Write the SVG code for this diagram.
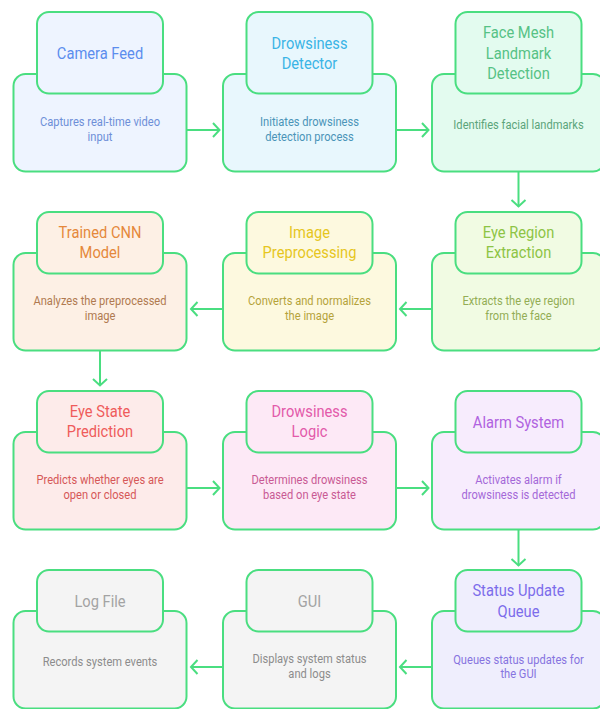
<svg xmlns="http://www.w3.org/2000/svg" width="600" height="709" viewBox="0 0 600 709">
<defs>
<marker id="ah" markerUnits="userSpaceOnUse" markerWidth="20" markerHeight="20" viewBox="-10 -10 20 20" refX="0" refY="0" orient="auto">
<path d="M-6.5,-7 L0,0 L-6.5,7" fill="none" stroke="#4ade80" stroke-width="2"/>
</marker>
</defs>
<style>
rect{stroke:#4ade80;stroke-width:2}
text{font-family:Roboto,"Liberation Sans",sans-serif;text-anchor:middle}
.h{font-size:16.5px}
.b{font-size:12.5px}
.conn path{fill:none;stroke:#4ade80;stroke-width:2;marker-end:url(#ah)}
.blue rect{fill:#eef4ff}.blue .h{fill:#5b8dee}.blue .b{fill:#6d8fd8}
.cyan rect{fill:#e8f7fd}.cyan .h{fill:#3ab4e6}.cyan .b{fill:#4a94b8}
.green rect{fill:#e3fbef}.green .h{fill:#56c285}.green .b{fill:#5ba47a}
.orange rect{fill:#fdf0e5}.orange .h{fill:#e5883b}.orange .b{fill:#b07a50}
.yellow rect{fill:#fdf9df}.yellow .h{fill:#e6c61e}.yellow .b{fill:#b5a33a}
.lime rect{fill:#f1fbe3}.lime .h{fill:#8dc445}.lime .b{fill:#93ad55}
.red rect{fill:#fdebea}.red .h{fill:#ef5b5b}.red .b{fill:#d65858}
.pink rect{fill:#fde9f6}.pink .h{fill:#e35aaa}.pink .b{fill:#c95a94}
.purple rect{fill:#f7ecfd}.purple .h{fill:#b062e0}.purple .b{fill:#a468d8}
.grey rect{fill:#f4f4f4}.grey .h{fill:#a3a3a3}.grey .b{fill:#8c8c8c}
.lav rect{fill:#efeefd}.lav .h{fill:#7c6ceb}.lav .b{fill:#8674e0}
</style>
<rect x="0" y="0" width="600" height="709" fill="#ffffff" style="stroke:none"/>

<g class="conn" id="connectors">
<path d="M186.5,130 H219.5"/>
<path d="M396,130 H428.5"/>
<path d="M518.5,171.5 V206.5"/>
<path d="M432,309 H400"/>
<path d="M223,309 H191"/>
<path d="M100,350.5 V385.5"/>
<path d="M186.5,488 H219.5"/>
<path d="M396,488 H428.5"/>
<path d="M518.5,529.5 V565.5"/>
<path d="M432,667 H400"/>
<path d="M223,667 H191"/>
</g>

<g id="camera-feed" class="blue">
<rect x="13.5" y="74" width="173" height="97.5" rx="12"/>
<rect x="37" y="12" width="126" height="81.5" rx="12"/>
<text class="h" transform="translate(100 59) scale(.89 1)">Camera Feed</text>
<text class="b" transform="translate(100 126) scale(.89 1)"><tspan x="0">Captures real-time video</tspan><tspan x="0" dy="15">input</tspan></text>
</g>

<g id="drowsiness-detector" class="cyan">
<rect x="223" y="74" width="173" height="97.5" rx="12"/>
<rect x="246.5" y="12" width="126" height="81.5" rx="12"/>
<text class="h" transform="translate(309.5 48.5) scale(.89 1)"><tspan x="0">Drowsiness</tspan><tspan x="0" dy="20.6">Detector</tspan></text>
<text class="b" transform="translate(309.5 126) scale(.89 1)"><tspan x="0">Initiates drowsiness</tspan><tspan x="0" dy="15">detection process</tspan></text>
</g>

<g id="face-mesh" class="green">
<rect x="432" y="74" width="173" height="97.5" rx="12"/>
<rect x="455.5" y="12" width="126" height="81.5" rx="12"/>
<text class="h" transform="translate(518.5 38) scale(.89 1)"><tspan x="0">Face Mesh</tspan><tspan x="0" dy="20.6">Landmark</tspan><tspan x="0" dy="20.6">Detection</tspan></text>
<text class="b" transform="translate(518.5 129) scale(.89 1)">Identifies facial landmarks</text>
</g>

<g id="trained-cnn" class="orange">
<rect x="13.5" y="253" width="173" height="97.5" rx="12"/>
<rect x="37" y="212" width="126" height="61.5" rx="12"/>
<text class="h" transform="translate(100 237.5) scale(.89 1)"><tspan x="0">Trained CNN</tspan><tspan x="0" dy="20.6">Model</tspan></text>
<text class="b" transform="translate(100 305) scale(.89 1)"><tspan x="0">Analyzes the preprocessed</tspan><tspan x="0" dy="15">image</tspan></text>
</g>

<g id="image-preprocessing" class="yellow">
<rect x="223" y="253" width="173" height="97.5" rx="12"/>
<rect x="246.5" y="212" width="126" height="61.5" rx="12"/>
<text class="h" transform="translate(309.5 237.5) scale(.89 1)"><tspan x="0">Image</tspan><tspan x="0" dy="20.6">Preprocessing</tspan></text>
<text class="b" transform="translate(309.5 305) scale(.89 1)"><tspan x="0">Converts and normalizes</tspan><tspan x="0" dy="15">the image</tspan></text>
</g>

<g id="eye-region" class="lime">
<rect x="432" y="253" width="173" height="97.5" rx="12"/>
<rect x="455.5" y="212" width="126" height="61.5" rx="12"/>
<text class="h" transform="translate(518.5 237.5) scale(.89 1)"><tspan x="0">Eye Region</tspan><tspan x="0" dy="20.6">Extraction</tspan></text>
<text class="b" transform="translate(518.5 305) scale(.89 1)"><tspan x="0">Extracts the eye region</tspan><tspan x="0" dy="15">from the face</tspan></text>
</g>

<g id="eye-state" class="red">
<rect x="13.5" y="432" width="173" height="97.5" rx="12"/>
<rect x="37" y="391" width="126" height="61.5" rx="12"/>
<text class="h" transform="translate(100 416.7) scale(.89 1)"><tspan x="0">Eye State</tspan><tspan x="0" dy="20.6">Prediction</tspan></text>
<text class="b" transform="translate(100 484) scale(.89 1)"><tspan x="0">Predicts whether eyes are</tspan><tspan x="0" dy="15">open or closed</tspan></text>
</g>

<g id="drowsiness-logic" class="pink">
<rect x="223" y="432" width="173" height="97.5" rx="12"/>
<rect x="246.5" y="391" width="126" height="61.5" rx="12"/>
<text class="h" transform="translate(309.5 416.7) scale(.89 1)"><tspan x="0">Drowsiness</tspan><tspan x="0" dy="20.6">Logic</tspan></text>
<text class="b" transform="translate(309.5 484) scale(.89 1)"><tspan x="0">Determines drowsiness</tspan><tspan x="0" dy="15">based on eye state</tspan></text>
</g>

<g id="alarm-system" class="purple">
<rect x="432" y="432" width="173" height="97.5" rx="12"/>
<rect x="455.5" y="391" width="126" height="61.5" rx="12"/>
<text class="h" transform="translate(518.5 428) scale(.89 1)">Alarm System</text>
<text class="b" transform="translate(518.5 484) scale(.89 1)"><tspan x="0">Activates alarm if</tspan><tspan x="0" dy="15">drowsiness is detected</tspan></text>
</g>

<g id="log-file" class="grey">
<rect x="13.5" y="611" width="173" height="97.5" rx="12"/>
<rect x="37" y="570" width="126" height="61.5" rx="12"/>
<text class="h" transform="translate(100 607) scale(.89 1)">Log File</text>
<text class="b" transform="translate(100 666) scale(.89 1)">Records system events</text>
</g>

<g id="gui" class="grey">
<rect x="223" y="611" width="173" height="97.5" rx="12"/>
<rect x="246.5" y="570" width="126" height="61.5" rx="12"/>
<text class="h" transform="translate(309.5 607) scale(.89 1)">GUI</text>
<text class="b" transform="translate(309.5 663) scale(.89 1)"><tspan x="0">Displays system status</tspan><tspan x="0" dy="15">and logs</tspan></text>
</g>

<g id="status-queue" class="lav">
<rect x="432" y="611" width="173" height="97.5" rx="12"/>
<rect x="455.5" y="570" width="126" height="61.5" rx="12"/>
<text class="h" transform="translate(518.5 596) scale(.89 1)"><tspan x="0">Status Update</tspan><tspan x="0" dy="20.6">Queue</tspan></text>
<text class="b" transform="translate(518.5 663.5) scale(.89 1)"><tspan x="0">Queues status updates for</tspan><tspan x="0" dy="15">the GUI</tspan></text>
</g>
</svg>
